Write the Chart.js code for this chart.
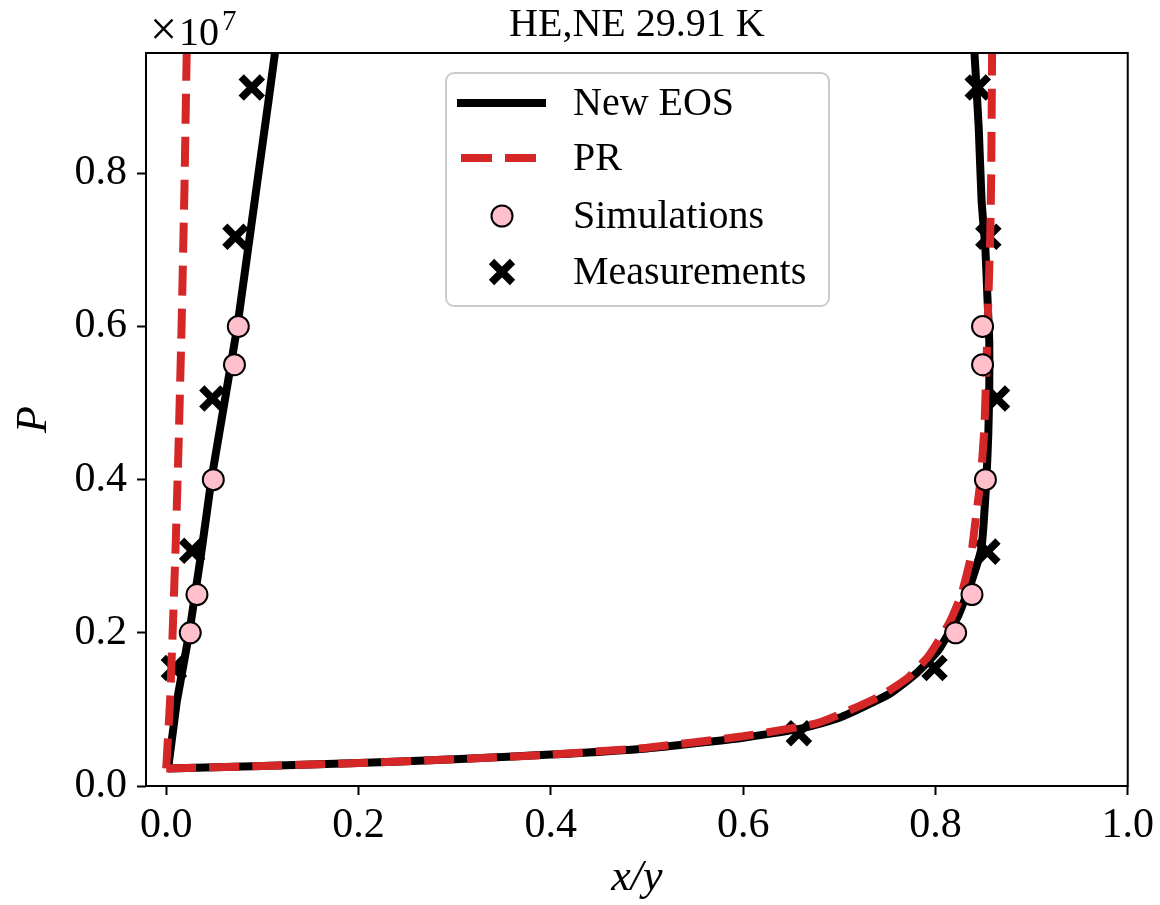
<!DOCTYPE html>
<html>
<head>
<meta charset="utf-8">
<title>HE,NE 29.91 K</title>
<script src="https://cdn.jsdelivr.net/npm/chart.js@4.4.1/dist/chart.umd.min.js"></script>
<style>
  html, body { margin: 0; padding: 0; background: #fff; }
  #wrap { width: 1160px; height: 905px; }
</style>
</head>
<body>
<div id="wrap"><canvas id="pxy" width="1160" height="905"></canvas></div>
<script>
// P-x-y envelope for He/Ne at 29.91 K, pressure in units of 1e7 Pa

const xTicks = [0.0, 0.2, 0.4, 0.6, 0.8, 1.0];
const pTicks = [0.0, 0.2, 0.4, 0.6, 0.8];

// New EOS - bubble and dew branches
const eosBubbleX = [0.002, 0.011, 0.024, 0.036, 0.047, 0.0605, 0.074, 0.085, 0.096, 0.107, 0.1145];
const eosBubbleP = [0.023, 0.110, 0.200, 0.300, 0.400, 0.500, 0.600, 0.700, 0.800, 0.900, 0.970];
const eosDewX = [0.002, 0.10, 0.20, 0.30, 0.40, 0.50, 0.60, 0.66, 0.70, 0.752, 0.780, 0.803, 0.824, 0.838,
                 0.848, 0.853, 0.855, 0.856, 0.856, 0.854, 0.852, 0.848, 0.845, 0.840];
const eosDewP = [0.023, 0.026, 0.030, 0.035, 0.041, 0.049, 0.063, 0.075, 0.089, 0.120, 0.147, 0.177, 0.223, 0.269,
                 0.312, 0.400, 0.460, 0.520, 0.580, 0.640, 0.700, 0.764, 0.860, 0.970];

// Peng-Robinson
const prBubbleX = [0.0, 0.004, 0.007, 0.010, 0.013, 0.016, 0.019, 0.0215];
const prBubbleP = [0.023, 0.110, 0.210, 0.320, 0.450, 0.600, 0.780, 0.970];
const prDewX = [0.0, 0.10, 0.20, 0.30, 0.40, 0.50, 0.60, 0.677, 0.720, 0.745, 0.772, 0.793, 0.814, 0.827,
                0.837, 0.842, 0.847, 0.851, 0.853, 0.855, 0.857, 0.858, 0.859];
const prDewP = [0.023, 0.026, 0.030, 0.035, 0.041, 0.050, 0.065, 0.082, 0.104, 0.119, 0.142, 0.170, 0.212, 0.250,
                0.300, 0.350, 0.400, 0.470, 0.550, 0.634, 0.720, 0.800, 0.970];

// simulation points
const simX = [0.025, 0.032, 0.049, 0.071, 0.075, 0.821, 0.838, 0.852, 0.849, 0.849];
const simP = [0.20, 0.25, 0.40, 0.55, 0.60, 0.20, 0.25, 0.40, 0.55, 0.60];

// measured points
const measX = [0.008, 0.027, 0.048, 0.072, 0.089, 0.658, 0.799, 0.854, 0.864, 0.855, 0.844];
const measP = [0.154, 0.307, 0.506, 0.717, 0.912, 0.069, 0.154, 0.306, 0.506, 0.717, 0.912];

const RED = '#d62728';
const PINK = '#ffc0cb';
const SERIF = '"Liberation Serif", "Times New Roman", serif';

function pts(xs, ps) {
  return xs.map((x, i) => ({ x: x, y: ps[i] }));
}

function curve(label, xs, ps, color, dash, tension, order) {
  return {
    label: label,
    data: pts(xs, ps),
    showLine: true,
    borderColor: color,
    borderWidth: 8,
    borderDash: dash,
    borderCapStyle: 'butt',
    borderJoinStyle: 'round',
    tension: tension,
    pointRadius: 0,
    pointHoverRadius: 0,
    clip: 0,
    order: order
  };
}

// frame, title, 1e7 offset and legend
const decor = {
  id: 'decor',
  afterDatasetsDraw(chart) {
    const { ctx, chartArea: a } = chart;
    ctx.save();

    ctx.strokeStyle = '#000';
    ctx.lineWidth = 2;
    ctx.strokeRect(a.left, a.top, a.right - a.left, a.bottom - a.top);

    ctx.fillStyle = '#000';
    ctx.textBaseline = 'alphabetic';
    ctx.textAlign = 'center';
    ctx.font = '40px ' + SERIF;
    ctx.fillText('HE,NE 29.91 K', (a.left + a.right) / 2, 36);

    // scale factor of the P axis
    ctx.textAlign = 'left';
    ctx.font = '48px ' + SERIF;
    ctx.fillText('\u00d7', 150, 45);
    let w = ctx.measureText('\u00d7').width;
    ctx.font = '40px ' + SERIF;
    ctx.fillText('10', 150 + w + 2, 45);
    w += 2 + ctx.measureText('10').width;
    ctx.font = '29px ' + SERIF;
    ctx.fillText('7', 150 + w + 3, 30);

    // legend box
    const bx = 446, by = 73, bw = 383, bh = 233, r = 8;
    ctx.beginPath();
    ctx.moveTo(bx + r, by);
    ctx.arcTo(bx + bw, by, bx + bw, by + bh, r);
    ctx.arcTo(bx + bw, by + bh, bx, by + bh, r);
    ctx.arcTo(bx, by + bh, bx, by, r);
    ctx.arcTo(bx, by, bx + bw, by, r);
    ctx.closePath();
    ctx.fillStyle = 'rgba(255,255,255,0.8)';
    ctx.fill();
    ctx.strokeStyle = '#cccccc';
    ctx.lineWidth = 2;
    ctx.stroke();

    const rows = [103, 158, 216, 272];
    const hx0 = 457, hx1 = 546, hc = 502;

    ctx.lineCap = 'butt';
    ctx.strokeStyle = '#000';
    ctx.lineWidth = 8;
    ctx.beginPath();
    ctx.moveTo(hx0, rows[0]);
    ctx.lineTo(hx1, rows[0]);
    ctx.stroke();

    ctx.strokeStyle = RED;
    ctx.setLineDash([31, 13]);
    ctx.beginPath();
    ctx.moveTo(hx0 + 4, rows[1]);
    ctx.lineTo(hx1 - 4, rows[1]);
    ctx.stroke();
    ctx.setLineDash([]);

    ctx.fillStyle = PINK;
    ctx.strokeStyle = '#000';
    ctx.lineWidth = 2;
    ctx.beginPath();
    ctx.arc(hc, rows[2], 10.5, 0, Math.PI * 2);
    ctx.fill();
    ctx.stroke();

    ctx.strokeStyle = '#000';
    ctx.lineWidth = 7.5;
    const d = 10.5;
    ctx.beginPath();
    ctx.moveTo(hc - d, rows[3] - d);
    ctx.lineTo(hc + d, rows[3] + d);
    ctx.moveTo(hc + d, rows[3] - d);
    ctx.lineTo(hc - d, rows[3] + d);
    ctx.stroke();

    ctx.fillStyle = '#000';
    ctx.font = '40px ' + SERIF;
    ctx.textAlign = 'left';
    ctx.textBaseline = 'alphabetic';
    const labels = ['New EOS', 'PR', 'Simulations', 'Measurements'];
    labels.forEach((t, i) => ctx.fillText(t, 573, rows[i] + 12));

    ctx.restore();
  }
};

Chart.defaults.font.family = SERIF;
Chart.defaults.color = '#000';

new Chart(document.getElementById('pxy'), {
  type: 'scatter',
  data: {
    datasets: [
      {
        label: 'Simulations',
        data: pts(simX, simP),
        pointStyle: 'circle',
        pointRadius: 10.5,
        pointHoverRadius: 10.5,
        pointBorderWidth: 2,
        pointBackgroundColor: PINK,
        pointBorderColor: '#000',
        order: 0
      },
      curve('PR', prBubbleX, prBubbleP, RED, [30, 13], 0, 1),
      curve('PR', prDewX, prDewP, RED, [30, 13], 0.15, 1),
      curve('New EOS', eosBubbleX, eosBubbleP, '#000', [], 0, 2),
      curve('New EOS', eosDewX, eosDewP, '#000', [], 0.15, 2),
      {
        label: 'Measurements',
        data: pts(measX, measP),
        pointStyle: 'crossRot',
        pointRadius: 15,
        pointHoverRadius: 15,
        pointBorderWidth: 7.5,
        pointBorderColor: '#000',
        pointBackgroundColor: '#000',
        order: 3
      }
    ]
  },
  options: {
    responsive: false,
    animation: false,
    events: [],
    layout: { padding: { top: 53, right: 32, bottom: 0, left: 0 } },
    plugins: {
      legend: { display: false },
      tooltip: { enabled: false },
      title: { display: false }
    },
    scales: {
      x: {
        type: 'linear',
        min: -0.021,
        max: 1.0,
        afterBuildTicks: s => { s.ticks = xTicks.map(v => ({ value: v })); },
        afterFit: s => { s.height = 119; },
        ticks: {
          callback: v => v.toFixed(1),
          font: { size: 42 },
          color: '#000',
          padding: 6,
          maxRotation: 0,
          autoSkip: false
        },
        grid: { drawOnChartArea: false, drawTicks: true, tickLength: 9, tickWidth: 2, tickColor: '#000' },
        border: { display: false },
        title: {
          display: true,
          text: 'x/y',
          font: { size: 44, style: 'italic' },
          color: '#000',
          padding: { top: 0, bottom: 0 }
        }
      },
      y: {
        type: 'linear',
        min: 0,
        max: 0.957,
        afterBuildTicks: s => { s.ticks = pTicks.map(v => ({ value: v })); },
        afterFit: s => { s.width = 146; },
        ticks: {
          callback: v => v.toFixed(1),
          font: { size: 42 },
          color: '#000',
          padding: 10,
          autoSkip: false
        },
        grid: { drawOnChartArea: false, drawTicks: true, tickLength: 9, tickWidth: 2, tickColor: '#000' },
        border: { display: false },
        title: {
          display: true,
          text: 'P',
          font: { size: 44, style: 'italic' },
          color: '#000',
          padding: { top: 8, bottom: 0 }
        }
      }
    }
  },
  plugins: [decor]
});
</script>
</body>
</html>
